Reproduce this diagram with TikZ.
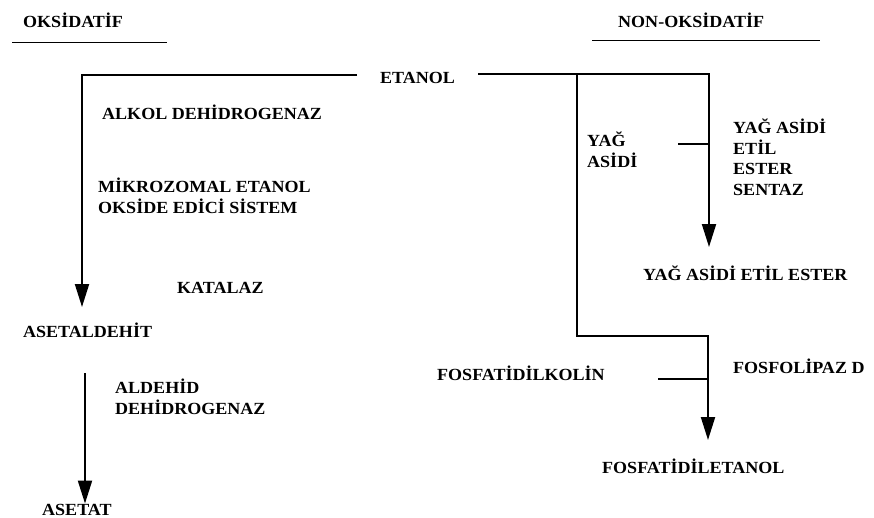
\documentclass[tikz,border=0pt]{standalone}
\usepackage{fontspec}
\setmainfont{Liberation Serif}[FakeStretch=1.06]
\usetikzlibrary{arrows.meta, positioning}

\tikzset{
  lbl/.style={font=\bfseries\fontsize{17}{20.5}\selectfont, inner sep=0pt,
              anchor=base west, align=left},
  trunk/.style={line width=2pt},
  flow/.style={trunk, -{Triangle[length=23pt, width=14pt]}},
  rule/.style={line width=1pt}
}

\begin{document}
\begin{tikzpicture}[x=1pt, y=-1pt]
	\useasboundingbox (0,0) rectangle (874,517);
	% headings
	\node [lbl] (oksidatif) at (23,27) {OKSİDATİF};
	\node [lbl] (nonoks) at (618,27) {NON-OKSİDATİF};
	\draw [rule] (12,42) -- (167,42);
	\draw [rule] (592,40) -- (820,40);
	% oksidatif yol (base = last line)
	\node [lbl, inner xsep=23pt] (etanol) at (357,83) {ETANOL};
	\node [lbl] (alkol) at (102,119) {ALKOL DEHİDROGENAZ};
	\node [lbl] (mikro) at (98,213) {MİKROZOMAL ETANOL\\OKSİDE EDİCİ SİSTEM};
	\node [lbl] (katalaz) at (177,293) {KATALAZ};
	\node [lbl] (asetaldehit) at (23,337) {ASETALDEHİT};
	\node [lbl] (aldehid) at (115,414) {ALDEHİD\\DEHİDROGENAZ};
	\node [lbl] (asetat) at (42,515) {ASETAT};
	% non-oksidatif yol
	\node [lbl] (yag) at (587,167) {YAĞ\\ASİDİ};
	\node [lbl] (sentaz) at (733,195) {YAĞ ASİDİ\\ETİL\\ESTER\\SENTAZ};
	\node [lbl] (ester) at (643,280) {YAĞ ASİDİ ETİL ESTER};
	\node [lbl] (kolin) at (437,380) {FOSFATİDİLKOLİN};
	\node [lbl] (pld) at (733,373) {FOSFOLİPAZ D};
	\node [lbl] (fetanol) at (602,473) {FOSFATİDİLETANOL};
	% connectors
	\coordinate (eleft) at ([yshift=2pt]etanol.west);
	\coordinate (eright) at ([yshift=3pt]etanol.east);
	\coordinate (ltip) at (82,307);
	\coordinate (rtip) at (709,247);
	\coordinate (fork) at (577,0);
	\coordinate (bend) at (708,336);
	\coordinate (ptip) at (708,440);
	\coordinate (aldstart) at (85,373);
	\coordinate (ytick) at (678,144);
	\coordinate (ktick) at (658,379);
	\draw [flow] (eleft) -| (ltip);
	\draw [flow] (aldstart) -- (aldstart |- asetat.north);
	\draw [flow] (eright) -| (rtip);
	\draw [flow] (fork |- eright) |- (bend) -- (ptip);
	\draw [trunk] (ytick) -- (ytick -| rtip);
	\draw [trunk] (ktick) -- (ktick -| bend);
\end{tikzpicture}
\end{document}
